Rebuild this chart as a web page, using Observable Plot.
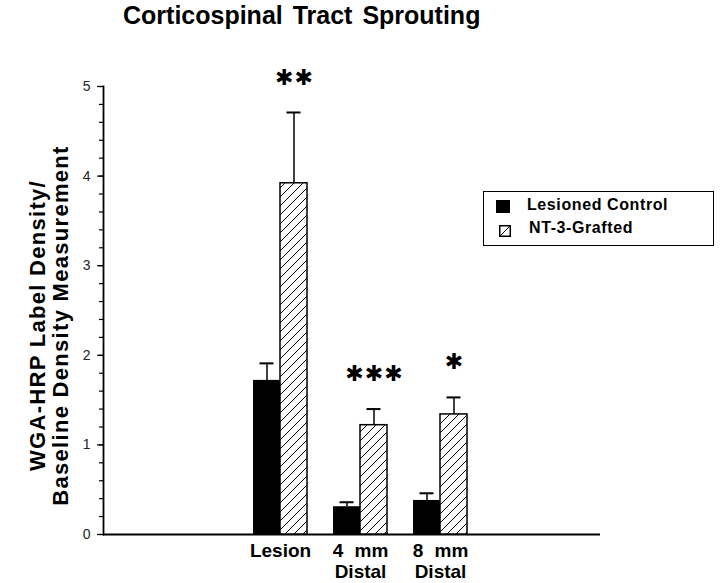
<!DOCTYPE html>
<html>
<head>
<meta charset="utf-8">
<script src="https://cdn.jsdelivr.net/npm/d3@7"></script>
<script src="https://cdn.jsdelivr.net/npm/@observablehq/plot@0.6"></script>
<style>
  body { margin: 0; background: #fff; }
  #wrap { position: relative; width: 720px; height: 583px; font-family: "Liberation Sans", Arial, Helvetica, sans-serif; color: #000; }
  #title { position: absolute; left: 123px; top: 3px; font-size: 25px; font-weight: bold; line-height: 1; white-space: nowrap; word-spacing: 3px; }
  #legend { position: absolute; left: 483px; top: 191px; width: 231px; height: 55px; border: 1.5px solid #000; box-sizing: border-box; background: #fff; }
  #legend .lab { position: absolute; font-size: 16px; font-weight: bold; line-height: 1; white-space: nowrap; letter-spacing: 0.6px; }
  #legend svg { position: absolute; }
  #chart { position: absolute; left: 0; top: 0; }
  g[aria-label="x-axis tick label"] text { word-spacing: 6px; }
</style>
</head>
<body>
<div id="wrap">
  <div id="chart"></div>
  <div id="title">Corticospinal Tract Sprouting</div>
  <div id="legend"></div>
</div>
<script>
// ---- data ----
const groups = ["Lesion", "4 mm\nDistal", "8 mm\nDistal"];
const control = [1.72, 0.31, 0.38];
const controlSem = [0.19, 0.05, 0.08];
const nt3 = [3.92, 1.22, 1.34];
const nt3Sem = [0.79, 0.18, 0.19];
const significance = ["✱✱", "✱✱✱", "✱"];
const yTicks = [0, 1, 2, 3, 4, 5];
const seriesNames = ["Lesioned Control", "NT-3-Grafted"];
const yLabel = "WGA-HRP Label Density/\nBaseline Density Measurement";

const rows = groups.map((g, i) => ({
  group: g,
  control: control[i], controlTop: control[i] + controlSem[i],
  nt3: nt3[i], nt3Top: nt3[i] + nt3Sem[i],
  sig: significance[i]
}));

const chart = Plot.plot({
  width: 720,
  height: 583,
  marginLeft: 103,
  marginRight: 120,
  marginTop: 86,
  marginBottom: 49,
  style: { fontFamily: "'Liberation Sans', Arial, Helvetica, sans-serif", color: "#000", background: "#fff" },
  x: { domain: groups, range: [240, 480], paddingInner: 0.325, paddingOuter: 0.1625 },
  y: { domain: [0, 5] },
  marks: [
    Plot.axisY({ ticks: 20, tickSize: 4, tickFormat: () => "", label: null, strokeWidth: 1.2 }),
    Plot.axisY({ ticks: yTicks, tickSize: 6, tickPadding: 7, tickFormat: d3.format("d"), fontSize: 14, label: null, strokeWidth: 1.2, fill: "#222" }),
    Plot.axisX({ tickSize: 0, tickPadding: 7.5, fontSize: 19, fontWeight: "bold", lineHeight: 1.1, label: null }),
    Plot.frame({ anchor: "left", strokeWidth: 1.8 }),
    Plot.ruleY([0], { strokeWidth: 1.8 }),
    // error bars (upper only)
    Plot.ruleX(rows, { x: "group", y1: "control", y2: "controlTop", dx: -13.5, strokeWidth: 1.5 }),
    Plot.tickY(rows, { x: "group", y: "controlTop", insetLeft: 6.5, insetRight: 33.5, strokeWidth: 2 }),
    Plot.ruleX(rows, { x: "group", y1: "nt3", y2: "nt3Top", dx: 13.5, strokeWidth: 1.5 }),
    Plot.tickY(rows, { x: "group", y: "nt3Top", insetLeft: 33.5, insetRight: 6.5, strokeWidth: 2 }),
    // bars
    Plot.barY(rows, { x: "group", y: "control", fill: "#000", insetRight: 27 }),
    Plot.barY(rows, { x: "group", y: "nt3", fill: "url(#hatch)", stroke: "#000", strokeWidth: 1.5, insetLeft: 27 }),
    // significance asterisks
    Plot.text(rows, { x: "group", y: "nt3Top", text: "sig", dx: 14, dy: -35, fontSize: 22, fontWeight: "bold",
      fontFamily: "'DejaVu Sans', sans-serif", lineAnchor: "middle" }),
    // y-axis title
    Plot.text([yLabel], { text: d => d, frameAnchor: "left", dx: -54, dy: 15, rotate: -90, fontSize: 22, fontWeight: "bold",
      lineHeight: 1.02, lineAnchor: "middle", textAnchor: "middle" })
  ]
});

// letter spacing tweaks
chart.querySelectorAll("text").forEach(t => {
  const s = t.textContent;
  if (s.startsWith("WGA")) {
    t.style.letterSpacing = "1.3px";
    t.querySelectorAll("tspan").forEach(ts => ts.style.letterSpacing = "1.3px");
  } else if (s.includes("✱")) {
    t.style.letterSpacing = "1px";
  }
});

// hatch pattern
const ns = "http://www.w3.org/2000/svg";
const defs = document.createElementNS(ns, "defs");
defs.innerHTML = '<pattern id="hatch" patternUnits="userSpaceOnUse" width="9" height="9">' +
  '<rect width="9" height="9" fill="#fff"/>' +
  '<path d="M0,9 L9,0 M-2,2 L2,-2 M7,11 L11,7" stroke="#000" stroke-width="1"/></pattern>';
chart.insertBefore(defs, chart.firstChild);
document.getElementById("chart").appendChild(chart);

// legend
const legend = document.getElementById("legend");
legend.innerHTML =
  '<svg style="left:12px;top:8px" width="14" height="13"><rect width="14" height="13" fill="#000"/></svg>' +
  '<div class="lab" style="left:43px;top:5px">' + seriesNames[0] + '</div>' +
  '<svg style="left:15px;top:33px" width="12" height="12"><rect x="0.75" y="0.75" width="10.5" height="10.5" fill="#fff" stroke="#000" stroke-width="1.5"/><path d="M1,11 L11,1" stroke="#000" stroke-width="1"/></svg>' +
  '<div class="lab" style="left:45px;top:28px">' + seriesNames[1] + '</div>';
</script>
</body>
</html>
